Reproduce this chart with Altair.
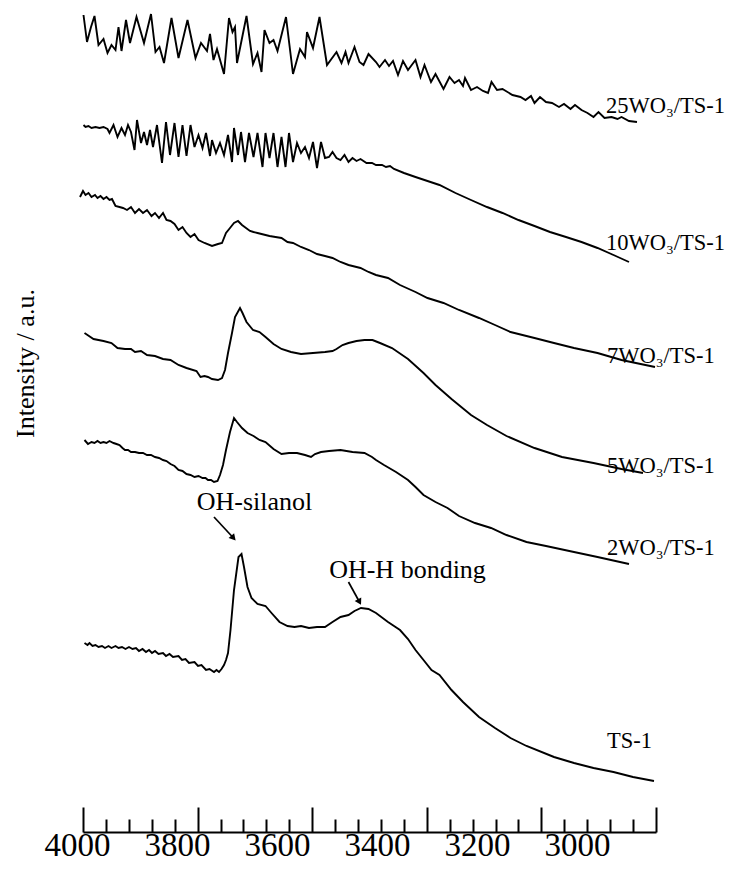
import altair as alt
import pandas as pd

FONT = "Liberation Serif, Times New Roman, serif"

# ---- axis values (wavenumber, cm-1) ----
x_label_values = [4000, 3800, 3600, 3400, 3200, 3000]
major_tick_values = [4000, 3800, 3600, 3400, 3200, 3000]
minor_tick_values = [3960, 3920, 3880, 3840, 3760, 3720, 3680, 3640,
                     3560, 3520, 3480, 3440, 3360, 3320, 3280, 3240,
                     3160, 3120, 3080, 3040]

# ---- spectra (wavenumber, intensity a.u., stacked offsets) ----
ts1_wn = [3985, 3979, 3975, 3969, 3963, 3957, 3950, 3944, 3937, 3931, 3923, 3917, 3910, 3903,
          3896, 3889, 3882, 3876, 3869, 3862, 3856, 3850, 3844, 3837, 3828, 3822, 3815, 3808,
          3797, 3790, 3783, 3776, 3765, 3758, 3751, 3742, 3735, 3726, 3721, 3716, 3711, 3706,
          3702, 3698, 3693, 3686, 3677, 3671, 3666, 3659, 3651, 3639, 3623, 3611, 3595, 3579,
          3565, 3552, 3536, 3520, 3504, 3489, 3473, 3457, 3445, 3432, 3417, 3402, 3378, 3354,
          3338, 3323, 3307, 3291, 3275, 3251, 3228, 3196, 3164, 3133, 3101, 3046, 3006, 2967,
          2927, 2888, 2846]
ts1_int = [1.89, 1.87, 1.89, 1.86, 1.87, 1.85, 1.86, 1.84, 1.86, 1.84, 1.86, 1.84, 1.85, 1.83,
           1.85, 1.83, 1.84, 1.81, 1.83, 1.80, 1.82, 1.79, 1.81, 1.78, 1.79, 1.76, 1.78, 1.75,
           1.76, 1.72, 1.73, 1.69, 1.70, 1.66, 1.67, 1.62, 1.63, 1.60, 1.62, 1.60, 1.63, 1.67,
           1.72, 1.79, 2.02, 2.42, 2.75, 2.78, 2.65, 2.45, 2.34, 2.28, 2.26, 2.19, 2.10, 2.06,
           2.05, 2.06, 2.04, 2.05, 2.05, 2.10, 2.15, 2.17, 2.21, 2.24, 2.23, 2.19, 2.10, 2.02,
           1.93, 1.82, 1.72, 1.62, 1.57, 1.42, 1.30, 1.15, 1.04, 0.94, 0.86, 0.75, 0.69, 0.64,
           0.60, 0.55, 0.51]

w2_wn = [3985, 3978, 3971, 3965, 3959, 3953, 3947, 3941, 3935, 3927, 3921, 3915, 3909, 3904,
         3898, 3892, 3884, 3876, 3868, 3860, 3852, 3844, 3836, 3828, 3821, 3813, 3805, 3797,
         3789, 3781, 3773, 3765, 3757, 3749, 3743, 3738, 3732, 3726, 3719, 3714, 3708, 3702,
         3694, 3686, 3680, 3670, 3659, 3647, 3635, 3623, 3607, 3591, 3576, 3560, 3544, 3532,
         3524, 3512, 3496, 3473, 3449, 3425, 3410, 3402, 3386, 3362, 3338, 3323, 3307, 3283,
         3259, 3236, 3204, 3172, 3141, 3101, 3062, 3006, 2959, 2896]
w2_int = [3.92, 3.88, 3.90, 3.89, 3.91, 3.89, 3.90, 3.89, 3.91, 3.89, 3.88, 3.87, 3.84, 3.82,
          3.82, 3.80, 3.80, 3.79, 3.79, 3.77, 3.77, 3.75, 3.74, 3.72, 3.71, 3.68, 3.66, 3.62,
          3.61, 3.58, 3.57, 3.55, 3.56, 3.54, 3.54, 3.52, 3.52, 3.50, 3.51, 3.57, 3.67, 3.82,
          4.00, 4.14, 4.10, 4.04, 3.99, 3.96, 3.92, 3.90, 3.83, 3.78, 3.79, 3.79, 3.77, 3.75,
          3.78, 3.80, 3.81, 3.82, 3.80, 3.79, 3.75, 3.72, 3.67, 3.60, 3.52, 3.45, 3.37, 3.30,
          3.24, 3.16, 3.09, 3.04, 2.97, 2.90, 2.86, 2.80, 2.75, 2.68]

w5_wn = [3985, 3979, 3967, 3947, 3931, 3919, 3904, 3892, 3884, 3872, 3860, 3844, 3828, 3813,
         3797, 3781, 3761, 3753, 3745, 3738, 3730, 3718, 3710, 3704, 3698, 3690, 3684, 3674,
         3669, 3661, 3648, 3635, 3623, 3607, 3591, 3572, 3552, 3528, 3504, 3489, 3481, 3469,
         3457, 3441, 3425, 3409, 3394, 3370, 3338, 3307, 3283, 3251, 3212, 3180, 3141, 3085,
         3030, 2967, 2911, 2868]
w5_int = [4.99, 4.97, 4.93, 4.91, 4.89, 4.84, 4.83, 4.83, 4.80, 4.81, 4.77, 4.76, 4.73, 4.72,
          4.67, 4.64, 4.61, 4.55, 4.56, 4.55, 4.53, 4.52, 4.54, 4.62, 4.79, 4.99, 5.15, 5.24,
          5.19, 5.10, 5.02, 5.00, 4.95, 4.88, 4.83, 4.80, 4.78, 4.79, 4.80, 4.81, 4.83, 4.87,
          4.89, 4.91, 4.92, 4.92, 4.89, 4.84, 4.73, 4.59, 4.47, 4.33, 4.17, 4.07, 3.96, 3.84,
          3.75, 3.69, 3.63, 3.59]

w7_wn = [3994, 3988, 3983, 3977, 3971, 3964, 3959, 3953, 3947, 3941, 3935, 3930, 3923, 3915,
         3908, 3900, 3892, 3884, 3876, 3868, 3860, 3851, 3844, 3836, 3828, 3821, 3813, 3805,
         3797, 3789, 3781, 3773, 3765, 3757, 3745, 3730, 3718, 3710, 3702, 3694, 3686, 3678,
         3670, 3662, 3654, 3647, 3639, 3631, 3623, 3615, 3603, 3591, 3579, 3568, 3552, 3536,
         3520, 3504, 3489, 3473, 3457, 3433, 3417, 3402, 3378, 3354, 3323, 3299, 3267, 3236,
         3196, 3164, 3133, 3085, 3046, 3006, 2959, 2911, 2844]
w7_int = [6.35, 6.41, 6.37, 6.39, 6.35, 6.37, 6.34, 6.36, 6.33, 6.35, 6.32, 6.33, 6.26, 6.25,
          6.24, 6.22, 6.25, 6.19, 6.23, 6.19, 6.22, 6.16, 6.19, 6.14, 6.19, 6.12, 6.11, 6.08,
          6.02, 6.05, 5.99, 5.95, 5.98, 5.92, 5.89, 5.86, 5.88, 5.89, 5.99, 6.04, 6.09, 6.11,
          6.07, 6.04, 6.01, 6.00, 5.99, 5.98, 5.97, 5.96, 5.95, 5.94, 5.90, 5.89, 5.85, 5.82,
          5.78, 5.76, 5.74, 5.70, 5.67, 5.64, 5.60, 5.57, 5.54, 5.47, 5.40, 5.34, 5.29, 5.22,
          5.14, 5.07, 5.00, 4.94, 4.89, 4.84, 4.79, 4.72, 4.65]

w10_wn = [3987, 3983, 3977, 3971, 3963, 3955, 3947, 3939, 3935, 3927, 3919, 3911, 3904, 3898,
          3892, 3885, 3880, 3872, 3866, 3860, 3854, 3848, 3840, 3830, 3822, 3814, 3805, 3797,
          3789, 3781, 3773, 3765, 3757, 3749, 3742, 3734, 3730, 3722, 3714, 3706, 3698, 3690,
          3686, 3678, 3672, 3664, 3656, 3647, 3639, 3629, 3623, 3615, 3607, 3599, 3591, 3583,
          3576, 3568, 3560, 3552, 3544, 3536, 3528, 3520, 3512, 3504, 3496, 3489, 3481, 3473,
          3465, 3457, 3449, 3441, 3433, 3421, 3410, 3402, 3390, 3382, 3374, 3366, 3346, 3323,
          3299, 3275, 3243, 3212, 3180, 3149, 3117, 3085, 3054, 3022, 2991, 2959, 2927, 2896]
w10_int = [7.07, 7.05, 7.06, 7.04, 7.05, 7.04, 7.05, 7.03, 6.99, 7.07, 6.95, 7.04, 6.97, 7.07,
           7.00, 6.82, 7.12, 6.89, 7.00, 6.87, 7.02, 6.85, 7.07, 6.69, 7.10, 6.77, 7.09, 6.75,
           7.07, 6.76, 7.07, 6.85, 6.97, 6.84, 6.99, 6.76, 6.92, 6.79, 6.89, 6.77, 6.97, 6.70,
           7.04, 6.77, 7.00, 6.70, 6.99, 6.75, 6.99, 6.65, 6.99, 6.74, 6.99, 6.65, 6.95, 6.65,
           6.99, 6.70, 6.89, 6.79, 6.85, 6.74, 6.90, 6.64, 6.90, 6.74, 6.75, 6.80, 6.74, 6.72,
           6.77, 6.70, 6.74, 6.71, 6.73, 6.69, 6.69, 6.67, 6.67, 6.65, 6.66, 6.63, 6.59, 6.55,
           6.51, 6.47, 6.39, 6.32, 6.25, 6.19, 6.12, 6.06, 6.00, 5.95, 5.90, 5.84, 5.77, 5.70]

w25_wn = [3987, 3980, 3972, 3965, 3957, 3947, 3939, 3931, 3923, 3917, 3911, 3902, 3894, 3881,
          3866, 3852, 3843, 3835, 3826, 3811, 3797, 3779, 3763, 3752, 3740, 3734, 3727, 3720,
          3706, 3696, 3689, 3684, 3680, 3661, 3648, 3639, 3631, 3625, 3615, 3607, 3599, 3582,
          3568, 3554, 3544, 3540, 3528, 3515, 3500, 3481, 3471, 3463, 3457, 3445, 3435, 3427,
          3417, 3402, 3395, 3384, 3376, 3368, 3358, 3348, 3338, 3332, 3323, 3313, 3305, 3292,
          3283, 3267, 3255, 3245, 3236, 3228, 3224, 3212, 3200, 3188, 3178, 3171, 3160, 3149,
          3129, 3113, 3103, 3092, 3085, 3074, 3062, 3050, 3036, 3026, 3013, 3004, 2991, 2979,
          2967, 2957, 2945, 2931, 2919, 2911, 2896, 2880]
w25_int = [8.17, 7.90, 8.05, 8.16, 7.87, 7.93, 7.79, 7.87, 7.82, 8.05, 7.81, 8.12, 7.89, 8.15,
           7.89, 8.18, 7.80, 7.85, 7.69, 8.14, 7.74, 8.12, 7.74, 7.89, 7.81, 7.98, 7.72, 7.83,
           7.58, 8.14, 8.00, 8.05, 7.69, 8.16, 7.68, 7.79, 7.60, 8.02, 7.89, 7.92, 7.81, 8.15,
           7.58, 7.83, 7.75, 8.00, 7.84, 8.15, 7.67, 7.80, 7.69, 7.80, 7.69, 7.85, 7.70, 7.67,
           7.78, 7.70, 7.65, 7.72, 7.66, 7.71, 7.57, 7.71, 7.62, 7.66, 7.72, 7.55, 7.67, 7.50,
           7.58, 7.43, 7.55, 7.49, 7.52, 7.46, 7.54, 7.42, 7.45, 7.41, 7.39, 7.50, 7.42, 7.43,
           7.37, 7.35, 7.32, 7.36, 7.29, 7.35, 7.30, 7.29, 7.25, 7.28, 7.23, 7.27, 7.22, 7.19,
           7.15, 7.20, 7.14, 7.15, 7.13, 7.15, 7.11, 7.10]

series = {
    "TS-1": (ts1_wn, ts1_int),
    "2WO3/TS-1": (w2_wn, w2_int),
    "5WO3/TS-1": (w5_wn, w5_int),
    "7WO3/TS-1": (w7_wn, w7_int),
    "10WO3/TS-1": (w10_wn, w10_int),
    "25WO3/TS-1": (w25_wn, w25_int),
}

# ---- curve labels ----
label_texts = ["25WO\u2083/TS-1", "10WO\u2083/TS-1", "7WO\u2083/TS-1",
               "5WO\u2083/TS-1", "2WO\u2083/TS-1", "TS-1"]
label_wn = [2942, 2942, 2940, 2940, 2940, 2940]
label_int = [7.19, 5.82, 4.69, 3.59, 2.77, 0.84]

# ---- annotations ----
annot_texts = ["OH-silanol", "OH-H bonding"]
annot_wn = [3645, 3339]
annot_int = [3.22, 2.54]

arrow_ids = ["silanol", "silanol", "hbond", "hbond"]
arrow_wn = [3726, 3687, 3457, 3435]
arrow_int = [3.15, 2.94, 2.50, 2.30]
head_wn = [3687, 3435]
head_int = [2.94, 2.30]
head_angle = [318, 332]

# ---- build tables ----
rows = []
for name, (wn, it) in series.items():
    for a, b in zip(wn, it):
        rows.append({"series": name, "wn": a, "inten": b})
spec_df = pd.DataFrame(rows)
lab_df = pd.DataFrame({"text": label_texts, "wn": label_wn, "inten": label_int})
ann_df = pd.DataFrame({"text": annot_texts, "wn": annot_wn, "inten": annot_int})
arr_df = pd.DataFrame({"arrow": arrow_ids, "wn": arrow_wn, "inten": arrow_int})
head_df = pd.DataFrame({"wn": head_wn, "inten": head_int, "ang": head_angle})

W = 579
H = 824


def xenc(field="wn"):
    return alt.X(
        f"{field}:Q",
        scale=alt.Scale(domain=[4000, 3000], range=[0, 500], nice=False, zero=False),
        axis=alt.Axis(values=x_label_values, title=None, orient="bottom", domain=False,
                      ticks=False, tickSize=0, grid=False, format="d",
                      labelFont=FONT, labelFontSize=33, labelColor="black",
                      labelBaseline="alphabetic", labelPadding=23,
                      labelFlush=False, labelOverlap=False),
    )


def yenc():
    return alt.Y(
        "inten:Q",
        scale=alt.Scale(domain=[0, 8.24], nice=False, zero=False),
        axis=alt.Axis(title="Intensity / a.u.", labels=False, ticks=False, domain=False,
                      grid=False, titleFont=FONT, titleFontSize=26, titleFontWeight="normal",
                      titleColor="black", titleAngle=270, titleX=-44, titleY=355,
                      titleAlign="center", titleBaseline="alphabetic"),
    )


curves = alt.Chart(spec_df).mark_line(color="black", strokeWidth=1.9).encode(
    x=xenc(), y=yenc(), detail="series:N"
)
labels = alt.Chart(lab_df).mark_text(
    align="left", baseline="alphabetic", font=FONT, fontSize=22.5, color="black"
).encode(x=xenc(), y=yenc(), text="text:N")
annots = alt.Chart(ann_df).mark_text(
    align="center", baseline="alphabetic", font=FONT, fontSize=26, color="black"
).encode(x=xenc(), y=yenc(), text="text:N")
arrows = alt.Chart(arr_df).mark_line(color="black", strokeWidth=1.7).encode(
    x=xenc(), y=yenc(), detail="arrow:N"
)
heads = alt.Chart(head_df).mark_point(
    shape="triangle-down", filled=True, size=55, color="black", opacity=1
).encode(x=xenc(), y=yenc(), angle=alt.Angle("ang:Q", scale=None))

main = alt.layer(curves, labels, annots, arrows, heads)

tick_scale = alt.Scale(domain=[4000, 3000], range=[6, 579], nice=False, zero=False)

major = alt.Chart(pd.DataFrame({"v": major_tick_values})).mark_point(opacity=0).encode(
    x=alt.X("v:Q", scale=tick_scale,
            axis=alt.Axis(orient="top", offset=-H, values=major_tick_values, title=None,
                          labels=False, grid=False, domain=True, domainColor="black",
                          domainWidth=2, ticks=True, tickSize=25, tickWidth=2,
                          tickColor="black"))
)
minor = alt.Chart(pd.DataFrame({"v": minor_tick_values})).mark_point(opacity=0).encode(
    x=alt.X("v:Q", scale=tick_scale,
            axis=alt.Axis(orient="top", offset=-H, values=minor_tick_values, title=None,
                          labels=False, grid=False, domain=False, ticks=True, tickSize=13,
                          tickWidth=2, tickColor="black"))
)

chart = alt.layer(main, major, minor).resolve_scale(x="independent").properties(
    width=W, height=H,
    autosize=alt.AutoSizeParams(type="none"),
    padding={"left": 69, "top": 0, "right": 72, "bottom": 31},
    background="white",
).configure_view(stroke=None)

chart.save("out.html", embed_options={"renderer": "svg", "actions": False})
